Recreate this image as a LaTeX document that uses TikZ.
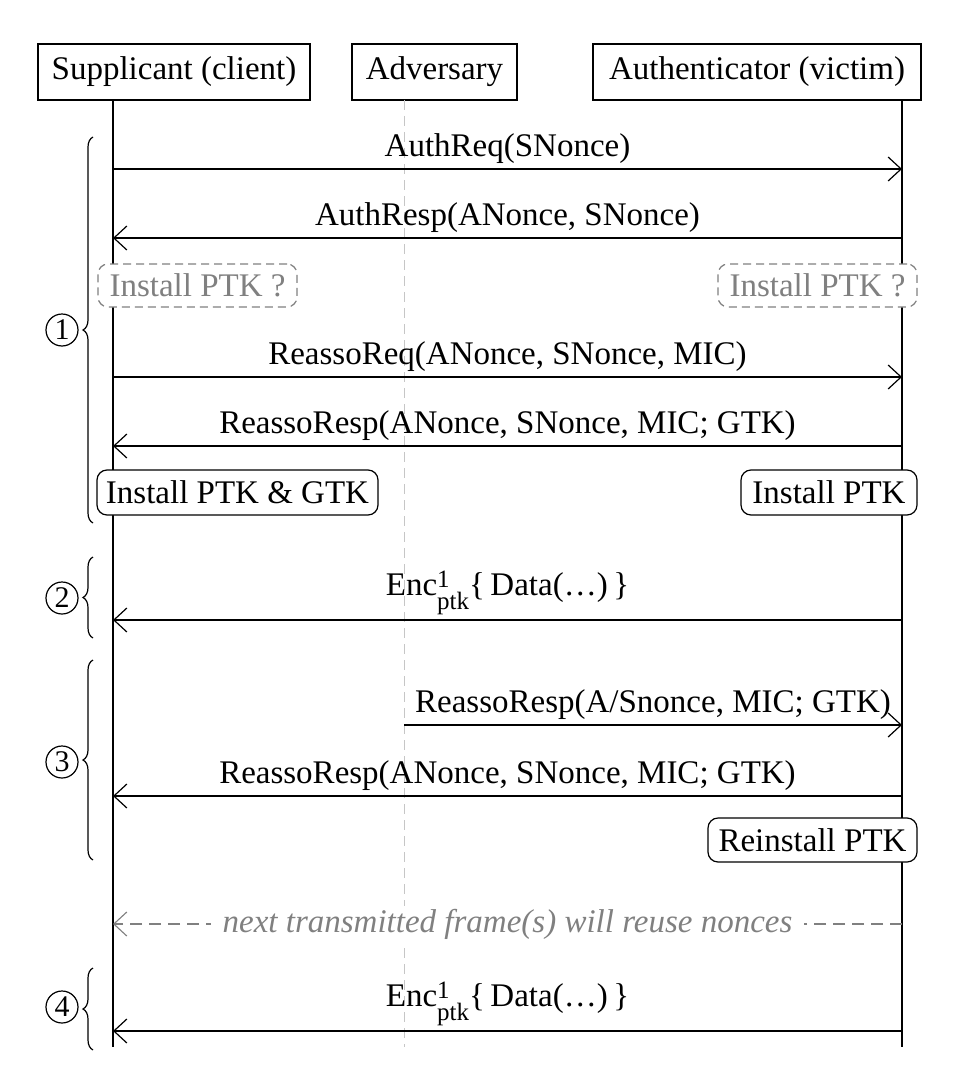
\documentclass[tikz,border=0pt]{standalone}
\usepackage{fontspec}
\setmainfont{Liberation Serif}
\usetikzlibrary{arrows.meta,decorations.pathreplacing}
\newcommand{\scr}[1]{{\fontsize{25}{28}\selectfont #1}}
\newcommand{\encdata}{Enc\rlap{\raisebox{8pt}{\scr{1}}}\raisebox{-14pt}{\scr{ptk}}\{\,Data(\dots)\,\}}
\begin{document}
\begin{tikzpicture}[x=1pt,y=-1pt,line width=1.2pt,
  every node/.style={font=\fontsize{33}{38}\selectfont},
  actor/.style={draw,rectangle,minimum height=56pt,inner sep=0pt},
  life/.style={line width=1.2pt},
  advlife/.style={line width=1pt,gray!45,dash pattern=on 10pt off 6pt},
  msg/.style={-{Straight Barb[length=13pt,width=24pt,line width=1.2pt]}},
  lbl/.style={above,inner sep=5pt},
  state/.style={draw,rounded corners=10pt,minimum height=45pt,inner sep=0pt,fill=white},
  maybe/.style={state,draw=gray,text=gray,dash pattern=on 8pt off 5pt},
  phase/.style={decorate,decoration={brace,amplitude=10pt},line width=1.2pt},
  num/.style={draw,circle,line width=1.2pt,minimum size=32pt,inner sep=0pt,font=\fontsize{30}{36}\selectfont},
  hint/.style={draw=gray,line width=1.1pt,dash pattern=on 12pt off 7pt},
]
\useasboundingbox (0,0) rectangle (964,1070);
\fill[white] (0,0) rectangle (964,1070);

% actors
\node[actor,minimum width=272pt] (sup) at (174,72) {Supplicant (client)};
\node[actor,minimum width=165pt] (adv) at (434.5,72) {Adversary};
\node[actor,minimum width=328pt] (aut) at (757,72) {Authenticator (victim)};

% lifelines
\coordinate (supT) at (113,100); \coordinate (supB) at (113,1047);
\coordinate (advT) at (404,100); \coordinate (advB) at (404,1047);
\coordinate (autT) at (902,100); \coordinate (autB) at (902,1047);
\draw[life] (supT) -- (supB);
\draw[advlife] (advT) -- (advB);
\draw[life] (autT) -- (autB);

% phase 1
\coordinate (s1) at (113,169); \coordinate (a1) at (902,169);
\draw[msg] (s1) -- node[lbl] {AuthReq(SNonce)} (a1);
\coordinate (s2) at (113,238); \coordinate (a2) at (902,238);
\draw[msg] (a2) -- node[lbl] {AuthResp(ANonce, SNonce)} (s2);
\node[maybe,minimum width=199pt,minimum height=43pt] (m1) at (197.5,285.5) {Install PTK ?};
\node[maybe,minimum width=199pt,minimum height=43pt] (m2) at (817.5,285.5) {Install PTK ?};
\coordinate (s3) at (113,377); \coordinate (a3) at (902,377);
\draw[msg] (s3) -- node[lbl] {ReassoReq(ANonce, SNonce, MIC)} (a3);
\coordinate (s4) at (113,446); \coordinate (a4) at (902,446);
\draw[msg] (a4) -- node[lbl] {ReassoResp(ANonce, SNonce, MIC; GTK)} (s4);
\node[state,minimum width=281pt] (i1) at (237.5,492.5) {Install PTK \& GTK};
\node[state,minimum width=176pt] (i2) at (829,492.5) {Install PTK};

% phase 2
\coordinate (s5) at (113,620); \coordinate (a5) at (902,620);
\draw[msg] (a5) -- node[lbl] {\encdata} (s5);

% phase 3
\coordinate (d6) at (404,725); \coordinate (a6) at (902,725);
\draw[msg] (d6) -- node[lbl] {ReassoResp(A/Snonce, MIC; GTK)} (a6);
\coordinate (s7) at (113,796); \coordinate (a7) at (902,796);
\draw[msg] (a7) -- node[lbl] {ReassoResp(ANonce, SNonce, MIC; GTK)} (s7);
\node[state,minimum width=209pt,minimum height=44pt] (r1) at (812.5,840) {Reinstall PTK};

% hint
\coordinate (s8) at (113,924); \coordinate (a8) at (902,924);
\draw[hint,-{Straight Barb[length=13pt,width=24pt,line width=1.1pt]}] (a8) -- node[fill=white,text=gray,font=\fontsize{33}{38}\selectfont\itshape,inner xsep=12pt] {next transmitted frame(s) will reuse nonces} (s8);

% phase 4
\coordinate (s9) at (113,1031); \coordinate (a9) at (902,1031);
\draw[msg] (a9) -- node[lbl] {\encdata} (s9);

% braces
\coordinate (b1b) at (93,523); \coordinate (b1t) at (93,137);
\draw[phase] (b1b) -- (b1t);
\node[num] (n1) at (62,330) {1};
\coordinate (b2b) at (93,638); \coordinate (b2t) at (93,557);
\draw[phase] (b2b) -- (b2t);
\node[num] (n2) at (62,598) {2};
\coordinate (b3b) at (93,860); \coordinate (b3t) at (93,660);
\draw[phase] (b3b) -- (b3t);
\node[num] (n3) at (62,762) {3};
\coordinate (b4b) at (93,1050); \coordinate (b4t) at (93,968);
\draw[phase] (b4b) -- (b4t);
\node[num] (n4) at (62,1007) {4};
\end{tikzpicture}
\end{document}
